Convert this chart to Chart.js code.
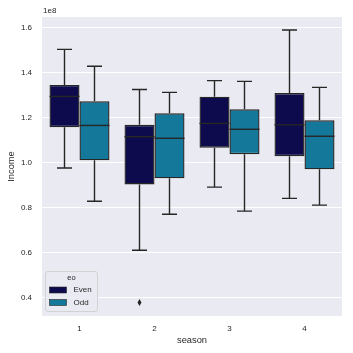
<!DOCTYPE html>
<html>
<head>
<meta charset="utf-8">
<script src="https://cdn.jsdelivr.net/npm/chart.js@4"></script>
<style>
html, body { margin: 0; padding: 0; background: #fff; }
#wrap { width: 353px; height: 353px; }
</style>
</head>
<body>
<div id="wrap"><canvas id="myChart" width="353" height="353"></canvas></div>
<script>
// values are in units of 1e8
const seasons = ['1', '2', '3', '4'];
const yTicks = [0.4, 0.6, 0.8, 1.0, 1.2, 1.4, 1.6];
const offsetText = '1e8';
const legendTitle = 'eo';

const evenLow = [0.975, 0.609, 0.890, 0.840];
const evenQ1 = [1.156, 0.902, 1.065, 1.027];
const evenMed = [1.293, 1.114, 1.173, 1.167];
const evenQ3 = [1.344, 1.167, 1.292, 1.308];
const evenHigh = [1.502, 1.324, 1.363, 1.588];
const evenOutliers = [[], [0.377], [], []];

const oddLow = [0.827, 0.769, 0.783, 0.810];
const oddQ1 = [1.009, 0.929, 1.036, 0.969];
const oddMed = [1.164, 1.107, 1.147, 1.116];
const oddQ3 = [1.271, 1.218, 1.236, 1.187];
const oddHigh = [1.427, 1.311, 1.360, 1.333];
const oddOutliers = [[], [], [], []];

const lineColor = '#262626';
const evenColor = '#0d0b4d';
const oddColor = '#14789a';

// whiskers behind the boxes, medians + outliers + legend on top
const boxExtras = {
    id: 'boxExtras',
    beforeDatasetsDraw(chart) {
        const ctx = chart.ctx;
        const y = chart.scales.y;
        chart.data.datasets.forEach((ds, di) => {
            chart.getDatasetMeta(di).data.forEach((bar, i) => {
                const { x, width } = bar.getProps(['x', 'width'], true);
                const cap = width / 4;
                ctx.save();
                ctx.strokeStyle = lineColor;
                ctx.lineWidth = 1.4;
                ctx.beginPath();
                ctx.moveTo(x, y.getPixelForValue(ds.data[i][1]));
                ctx.lineTo(x, y.getPixelForValue(ds.high[i]));
                ctx.moveTo(x - cap, y.getPixelForValue(ds.high[i]));
                ctx.lineTo(x + cap, y.getPixelForValue(ds.high[i]));
                ctx.moveTo(x, y.getPixelForValue(ds.data[i][0]));
                ctx.lineTo(x, y.getPixelForValue(ds.low[i]));
                ctx.moveTo(x - cap, y.getPixelForValue(ds.low[i]));
                ctx.lineTo(x + cap, y.getPixelForValue(ds.low[i]));
                ctx.stroke();
                ctx.restore();
            });
        });
    },
    afterDatasetsDraw(chart) {
        const ctx = chart.ctx;
        const y = chart.scales.y;
        chart.data.datasets.forEach((ds, di) => {
            chart.getDatasetMeta(di).data.forEach((bar, i) => {
                const { x, width } = bar.getProps(['x', 'width'], true);
                const ym = y.getPixelForValue(ds.med[i]);
                ctx.save();
                ctx.strokeStyle = lineColor;
                ctx.lineWidth = 1.4;
                ctx.beginPath();
                ctx.moveTo(x - width / 2, ym);
                ctx.lineTo(x + width / 2, ym);
                ctx.stroke();
                ctx.fillStyle = lineColor;
                ds.outliers[i].forEach(v => {
                    const yo = y.getPixelForValue(v);
                    ctx.beginPath();
                    ctx.moveTo(x, yo - 3.5);
                    ctx.lineTo(x + 2, yo);
                    ctx.lineTo(x, yo + 3.5);
                    ctx.lineTo(x - 2, yo);
                    ctx.closePath();
                    ctx.fill();
                });
                ctx.restore();
            });
        });
    },
    afterDraw(chart) {
        const ctx = chart.ctx;
        const area = chart.chartArea;
        ctx.save();
        ctx.font = '8px "Liberation Sans", Arial, sans-serif';
        ctx.fillStyle = lineColor;
        ctx.textBaseline = 'middle';
        ctx.textAlign = 'left';
        ctx.fillText(offsetText, area.left + 1, 11);

        // legend box
        const lx = area.left + 3.5, ly = 271.5, lw = 52, lh = 40;
        ctx.beginPath();
        ctx.roundRect(lx, ly, lw, lh, 2.5);
        ctx.fillStyle = 'rgba(234,234,242,0.85)';
        ctx.fill();
        ctx.strokeStyle = '#cccccc';
        ctx.lineWidth = 0.8;
        ctx.stroke();

        ctx.fillStyle = lineColor;
        ctx.textAlign = 'center';
        ctx.font = '7.5px "Liberation Sans", Arial, sans-serif';
        ctx.fillText(legendTitle, lx + lw / 2, ly + 6.5);
        chart.data.datasets.forEach((ds, di) => {
            const ry = ly + 18.5 + di * 12.5;
            ctx.fillStyle = ds.backgroundColor;
            ctx.fillRect(lx + 4, ry - 3, 17, 6);
            ctx.strokeStyle = lineColor;
            ctx.lineWidth = 0.6;
            ctx.strokeRect(lx + 4, ry - 3, 17, 6);
            ctx.fillStyle = lineColor;
            ctx.textAlign = 'left';
            ctx.font = '8px "Liberation Sans", Arial, sans-serif';
            ctx.fillText(ds.label, lx + 28, ry);
        });
        ctx.restore();
    }
};

// plot background
const plotBg = {
    id: 'plotBg',
    beforeDraw(chart) {
        const { ctx, chartArea: a } = chart;
        ctx.save();
        ctx.fillStyle = '#eaeaf2';
        ctx.fillRect(a.left, a.top, a.right - a.left, a.bottom - a.top);
        ctx.restore();
    }
};

const tickFont = { family: '"Liberation Sans", Arial, sans-serif', size: 8 };
const labelFont = { family: '"Liberation Sans", Arial, sans-serif', size: 9.3 };

new Chart(document.getElementById('myChart'), {
    type: 'bar',
    data: {
        labels: seasons,
        datasets: [
            {
                label: 'Even',
                data: seasons.map((s, i) => [evenQ1[i], evenQ3[i]]),
                low: evenLow, med: evenMed, high: evenHigh, outliers: evenOutliers,
                backgroundColor: evenColor,
                borderColor: lineColor,
                borderWidth: 1.4,
                borderSkipped: false,
                categoryPercentage: 0.8,
                barPercentage: 1.0
            },
            {
                label: 'Odd',
                data: seasons.map((s, i) => [oddQ1[i], oddQ3[i]]),
                low: oddLow, med: oddMed, high: oddHigh, outliers: oddOutliers,
                backgroundColor: oddColor,
                borderColor: lineColor,
                borderWidth: 1.4,
                borderSkipped: false,
                categoryPercentage: 0.8,
                barPercentage: 1.0
            }
        ]
    },
    options: {
        responsive: false,
        animation: false,
        devicePixelRatio: 1,
        layout: { padding: { top: 17, right: 11, left: 0, bottom: 0 } },
        plugins: { legend: { display: false }, tooltip: { enabled: false } },
        scales: {
            x: {
                grid: { display: false },
                border: { display: false },
                ticks: { color: lineColor, font: tickFont, padding: 0 },
                title: { display: true, text: 'season', color: lineColor, font: labelFont, padding: { top: 0, bottom: 6.5 } },
                afterFit: s => { s.height = 37; }
            },
            y: {
                min: 0.317,
                max: 1.646,
                afterBuildTicks: axis => { axis.ticks = yTicks.map(v => ({ value: v })); },
                grid: { color: '#ffffff', lineWidth: 1, drawTicks: false },
                border: { display: false },
                ticks: { color: lineColor, font: tickFont, padding: 10, callback: v => v.toFixed(1) },
                title: { display: true, text: 'Income', color: lineColor, font: labelFont, padding: { top: 6, bottom: 0 } },
                afterFit: s => { s.width = 42; }
            }
        }
    },
    plugins: [plotBg, boxExtras]
});
</script>
</body>
</html>
